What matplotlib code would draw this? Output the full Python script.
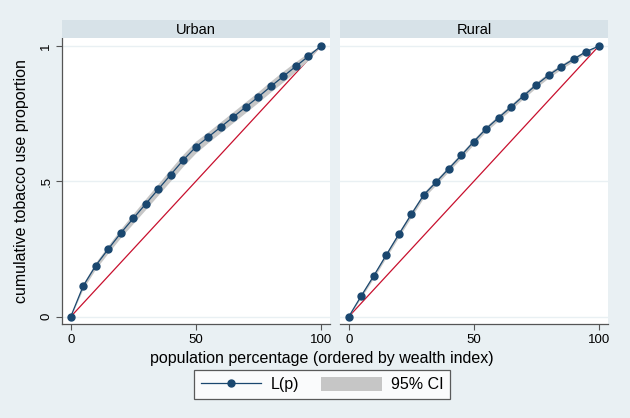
import matplotlib
matplotlib.use("Agg")
import matplotlib.pyplot as plt
from matplotlib.lines import Line2D
from matplotlib.patches import Patch, Rectangle

plt.rcParams['font.family'] = ['Liberation Sans', 'DejaVu Sans']

# ---- data ----
pop_pct = [0, 5, 10, 15, 20, 25, 30, 35, 40, 45, 50, 55, 60, 65, 70, 75, 80, 85, 90, 95, 100]
urban_lp = [0.0, 0.114, 0.189, 0.250, 0.309, 0.363, 0.417, 0.471, 0.525, 0.579, 0.627,
            0.664, 0.701, 0.738, 0.775, 0.812, 0.851, 0.888, 0.925, 0.962, 1.0]
urban_ci_half = [0.0, 0.010, 0.012, 0.014, 0.016, 0.018, 0.020, 0.021, 0.022, 0.022, 0.022,
                 0.020, 0.020, 0.020, 0.020, 0.020, 0.020, 0.020, 0.018, 0.014, 0.0]
rural_lp = [0.0, 0.077, 0.151, 0.228, 0.304, 0.378, 0.450, 0.498, 0.547, 0.596, 0.647,
            0.695, 0.736, 0.776, 0.817, 0.857, 0.893, 0.924, 0.952, 0.980, 1.0]
rural_ci_half = [0.0, 0.006, 0.008, 0.009, 0.010, 0.010, 0.010, 0.010, 0.010, 0.010, 0.010,
                 0.010, 0.010, 0.010, 0.010, 0.010, 0.010, 0.009, 0.008, 0.006, 0.0]
panels = ["Urban", "Rural"]
equality = [0, 100]
equality_y = [0, 1]
ytick_vals = [0, 0.5, 1]
ytick_labels = ["0", ".5", "1"]
xtick_vals = [0, 50, 100]
xtick_labels = ["0", "50", "100"]

W, H = 630, 418
BG = "#e9f0f3"
STRIP = "#d7e2e8"
NAVY = "#1a476f"
RED = "#c8102e"
BAND = "#c6c6c6"
SPINE = "#555555"

fig = plt.figure(figsize=(W / 100, H / 100), dpi=100, facecolor=BG)

def fx(px):
    return px / W

def fy(py):
    return 1 - py / H

panel_x = [(62, 330), (340, 608)]
top_px, bot_px = 38, 324
series = [(urban_lp, urban_ci_half), (rural_lp, rural_ci_half)]

for i, (name, (x0, x1), (lp, half)) in enumerate(zip(panels, panel_x, series)):
    ax = fig.add_axes([fx(x0), fy(bot_px), fx(x1 - x0), (bot_px - top_px) / H])
    ax.set_facecolor("white")
    ax.set_xlim(-3.5, 103.7)
    ax.set_ylim(-0.027, 1.03)
    for yv in ytick_vals:
        ax.axhline(yv, color=BG, lw=1.0, zorder=0)
    ax.plot(equality, equality_y, color=RED, lw=0.9, zorder=2)
    lo = [a - b for a, b in zip(lp, half)]
    hi = [a + b for a, b in zip(lp, half)]
    ax.fill_between(pop_pct, lo, hi, color=BAND, lw=0, zorder=3)
    ax.plot(pop_pct, lp, color=NAVY, lw=0.9, marker='o', markersize=5,
            markerfacecolor=NAVY, markeredgecolor=NAVY, zorder=4)
    for s in ['top', 'right']:
        ax.spines[s].set_visible(False)
    ax.spines['bottom'].set_color(SPINE)
    ax.spines['bottom'].set_linewidth(0.9)
    ax.set_xticks(xtick_vals)
    ax.set_xticklabels(xtick_labels, fontsize=9.5)
    ax.tick_params(axis='x', length=4, color=SPINE, pad=3)
    if i == 0:
        ax.spines['left'].set_color(SPINE)
        ax.spines['left'].set_linewidth(0.9)
        ax.set_yticks(ytick_vals)
        ax.set_yticklabels(ytick_labels, fontsize=9.5, rotation=90, va='center')
        ax.tick_params(axis='y', length=4, color=SPINE, pad=3)
    else:
        ax.spines['left'].set_visible(False)
        ax.set_yticks([])
    # title strip
    fig.patches.append(Rectangle((fx(x0), fy(top_px)), fx(x1 - x0), (top_px - 20) / H,
                                 transform=fig.transFigure, facecolor=STRIP,
                                 edgecolor='none', zorder=1))
    fig.text(fx((x0 + x1) / 2), fy(29.5), name, ha='center', va='center', fontsize=10.5)

fig.text(fx(322), fy(359), "population percentage (ordered by wealth index)",
         ha='center', va='center', fontsize=11.5)
fig.text(fx(22), fy(181), "cumulative tobacco use proportion",
         ha='center', va='center', rotation=90, fontsize=11.5)

handles = [Line2D([], [], color=NAVY, lw=0.9, marker='o', markersize=5),
           Patch(facecolor=BAND, edgecolor='none')]
leg = fig.legend(handles, ["L(p)", "95% CI"], ncol=2, loc='center',
                 bbox_to_anchor=(fx(322), fy(384.5)), fontsize=11.5,
                 frameon=True, fancybox=False, handlelength=3.8, handleheight=1.05,
                 columnspacing=1.4, handletextpad=0.55, borderpad=0.4, borderaxespad=0)
leg.get_frame().set_edgecolor("#333333")
leg.get_frame().set_linewidth(0.9)
leg.get_frame().set_facecolor("white")

fig.savefig("out.png", dpi=100, facecolor=BG)
